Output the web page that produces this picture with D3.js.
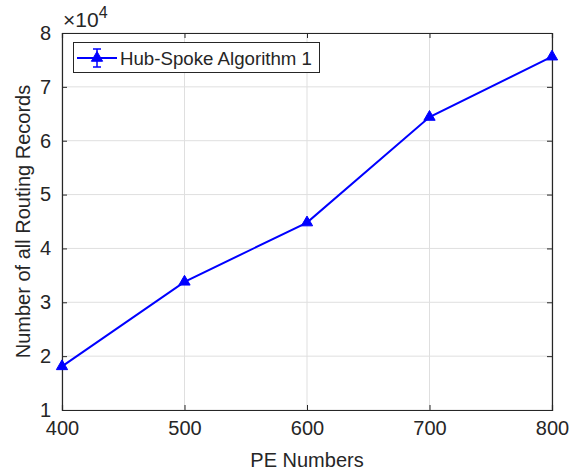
<!DOCTYPE html>
<html>
<head>
<meta charset="utf-8">
<title>Routing records vs PE numbers</title>
<style>
  body { margin: 0; background: #fff; }
  svg text { font-family: "Liberation Sans", Arial, sans-serif; fill: #262626; }
</style>
<script src="https://d3js.org/d3.v7.min.js"></script>
</head>
<body>
<script>
// data
var peNumbers = [400, 500, 600, 700, 800];
var routingRecords = [18100, 33800, 44800, 64400, 75600];
var xTicks = [400, 500, 600, 700, 800];
var yTicks = [1, 2, 3, 4, 5, 6, 7, 8];   // in units of 10^4
var seriesName = "Hub-Spoke Algorithm 1";

var width = 581, height = 473;
var margin = {left: 62, right: 29, top: 33, bottom: 63};

var svg = d3.select("body").append("svg")
    .attr("width", width).attr("height", height);

var x = d3.scaleLinear().domain([400, 800]).range([margin.left, width - margin.right]);
var y = d3.scaleLinear().domain([1, 8]).range([height - margin.bottom, margin.top]);

// grid
svg.append("g").selectAll("line.gx").data(xTicks).enter().append("line")
    .attr("x1", function(d) { return x(d); }).attr("x2", function(d) { return x(d); })
    .attr("y1", y(1)).attr("y2", y(8))
    .attr("stroke", "#dfdfdf").attr("stroke-width", 1);
svg.append("g").selectAll("line.gy").data(yTicks).enter().append("line")
    .attr("x1", x(400)).attr("x2", x(800))
    .attr("y1", function(d) { return y(d); }).attr("y2", function(d) { return y(d); })
    .attr("stroke", "#dfdfdf").attr("stroke-width", 1);

// axes
var xAxis = d3.axisBottom(x).tickValues(xTicks).tickSize(-5).tickPadding(11);
var gx = svg.append("g").attr("transform", "translate(0," + y(1) + ")").call(xAxis);
var xAxisTop = d3.axisTop(x).tickValues(xTicks).tickSize(-5).tickFormat("");
var gxt = svg.append("g").attr("transform", "translate(0," + y(8) + ")").call(xAxisTop);
var yAxis = d3.axisLeft(y).tickValues(yTicks).tickSize(-5).tickPadding(11).tickFormat(d3.format("d"));
var gy = svg.append("g").attr("transform", "translate(" + x(400) + ",0)").call(yAxis);
var yAxisR = d3.axisRight(y).tickValues(yTicks).tickSize(-5).tickFormat("");
var gyr = svg.append("g").attr("transform", "translate(" + x(800) + ",0)").call(yAxisR);

[gx, gxt, gy, gyr].forEach(function(g) {
  g.attr("font-size", 20);
  g.select(".domain").attr("stroke", "#262626").attr("stroke-width", 1.2);
  g.selectAll(".tick line").attr("stroke", "#262626");
  g.selectAll(".tick text").attr("fill", "#262626")
    .attr("font-family", "Liberation Sans, Arial, sans-serif");
});

// exponent label
var ex = svg.append("text").attr("x", x(400) + 1).attr("y", 27).attr("font-size", 21);
ex.append("tspan").text("\u00d710");
ex.append("tspan").attr("dy", -9).attr("font-size", 16).text("4");

// axis titles
svg.append("text").attr("x", (x(400) + x(800)) / 2).attr("y", 467)
    .attr("text-anchor", "middle").attr("font-size", 20).text("PE Numbers");
svg.append("text").attr("transform", "translate(30," + (y(1) + y(8)) / 2 + ") rotate(-90)")
    .attr("text-anchor", "middle").attr("font-size", 20).text("Number of all Routing Records");

// series
var pts = peNumbers.map(function(p, i) { return {x: p, y: routingRecords[i] / 1e4}; });
var line = d3.line().x(function(d) { return x(d.x); }).y(function(d) { return y(d.y); });
svg.append("path").datum(pts).attr("d", line)
    .attr("fill", "none").attr("stroke", "#0000ff").attr("stroke-width", 2);

var tri = d3.symbol().type(d3.symbolTriangle).size(55);
svg.selectAll("path.mk").data(pts).enter().append("path")
    .attr("class", "mk")
    .attr("d", tri)
    .attr("transform", function(d) { return "translate(" + x(d.x) + "," + y(d.y) + ")"; })
    .attr("fill", "#0000ff").attr("stroke", "#0000ff");

// legend
var lg = svg.append("g");
lg.append("rect").attr("x", 73.5).attr("y", 42.5).attr("width", 246).attr("height", 30)
    .attr("fill", "#fff").attr("stroke", "#262626").attr("stroke-width", 1);
lg.append("line").attr("x1", 77).attr("x2", 117).attr("y1", 58).attr("y2", 58)
    .attr("stroke", "#0000ff").attr("stroke-width", 2);
lg.append("line").attr("x1", 97).attr("x2", 97).attr("y1", 49).attr("y2", 67)
    .attr("stroke", "#0000ff").attr("stroke-width", 1.5);
lg.append("line").attr("x1", 93).attr("x2", 101).attr("y1", 49).attr("y2", 49)
    .attr("stroke", "#0000ff").attr("stroke-width", 1.5);
lg.append("line").attr("x1", 93).attr("x2", 101).attr("y1", 67).attr("y2", 67)
    .attr("stroke", "#0000ff").attr("stroke-width", 1.5);
lg.append("path").attr("d", tri).attr("transform", "translate(97,58)")
    .attr("fill", "#0000ff").attr("stroke", "#0000ff");
lg.append("text").attr("x", 120).attr("y", 64.5).attr("font-size", 18.5)
    .attr("textLength", 192).attr("lengthAdjust", "spacingAndGlyphs").text(seriesName);
</script>
</body>
</html>
